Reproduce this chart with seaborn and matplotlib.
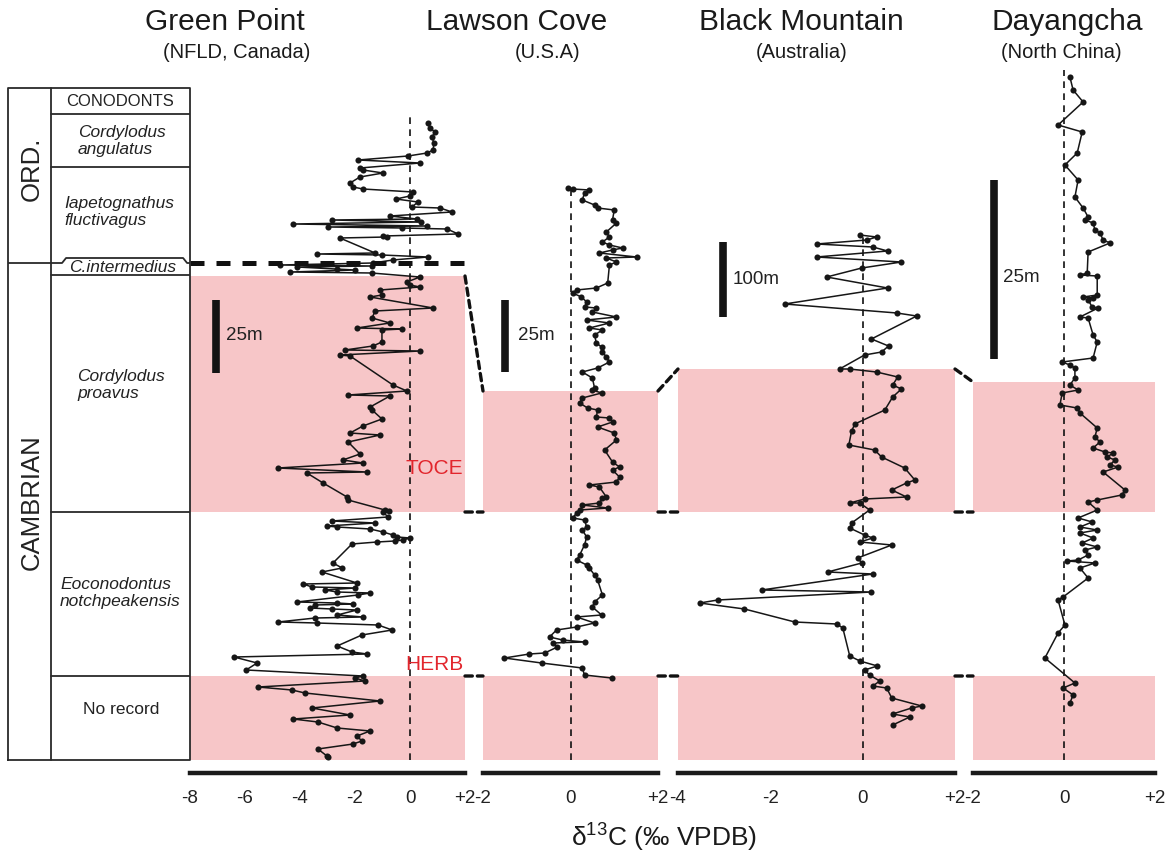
import numpy as np
import pandas as pd
import matplotlib
matplotlib.use("Agg")
import matplotlib.pyplot as plt
import seaborn as sns
from matplotlib.patches import ConnectionPatch

sns.set_style("white")
plt.rcParams['font.family'] = ['Liberation Sans', 'DejaVu Sans']
plt.rcParams['mathtext.default'] = 'regular'
plt.rcParams['axes.unicode_minus'] = False

# ---------------- data (composite stratigraphic level, d13C permil) ----------------
gp_level = [637, 632, 628, 623, 617, 610, 607, 604, 600, 597, 592, 590, 587, 583, 577, 573, 571, 568,
            564, 561, 558, 553, 552, 548, 544, 541, 540, 538, 536, 534, 533, 532, 531, 526, 524, 523,
            522, 507, 506, 505, 503, 500, 497, 495, 494, 493, 491, 490, 488, 487, 483, 478, 475, 473,
            470, 465, 463, 452, 449, 442, 437, 432, 431, 430, 418, 414, 410, 409, 405, 404, 375, 369,
            365, 364, 353, 350, 341, 334, 327, 325, 318, 306, 300, 297, 292, 288, 287, 277, 263, 260,
            250, 249, 248, 243, 239, 237, 234, 233, 231, 228, 225, 223, 222, 220, 219, 218, 216, 197,
            192, 188, 177, 176, 173, 172, 170, 168, 167, 165, 158, 157, 156, 155, 152, 151, 150, 145,
            143, 142, 138, 137, 135, 130, 125, 114, 108, 106, 103, 97, 90, 84, 82, 79, 73, 70, 67, 59,
            52, 45, 41, 38, 32, 29, 24, 19, 16, 11, 4, 3]
gp_d13c = [0.65, 0.73, 0.91, 0.80, 0.87, 0.84, 0.62, -0.07, -1.89, 0.36, -1.82, -1.71, -0.98, -1.82,
           -2.18, -2.07, -1.71, 0.11, 0.00, -0.51, 0.29, 0.07, 1.09, 1.53, -0.73, 0.25, -2.84, 0.40,
           -4.25, 0.62, -2.98, -0.29, 1.35, 1.75, -0.98, -0.84, -2.55, -1.27, -3.38, -1.02, 0.65,
           -0.62, -1.35, -4.73, -1.38, -4.11, -2.65, -2.00, -4.36, -1.40, 0.36, -0.11, 0.00, 0.36,
           -1.09, -1.02, -1.45, 0.84, -1.27, -1.38, -0.73, -1.93, -0.29, -1.02, -1.02, -1.35, -2.36,
           0.36, -2.55, -2.18, -0.62, -0.11, -2.25, -0.73, -1.45, -1.38, -1.02, -1.71, -2.18, -1.09,
           -2.25, -1.82, -2.44, -1.71, -4.80, -1.56, -3.75, -3.16, -2.29, -2.25, -0.91, -0.76, -0.98,
           -0.80, -2.84, -1.27, -3.02, -2.65, -1.45, -0.98, -0.62, -0.47, 0.00, -0.25, -0.55, -1.20,
           -2.11, -2.80, -2.47, -3.20, -1.93, -3.89, -3.56, -2.00, -3.09, -2.65, -1.45, -1.89, -4.11,
           -2.65, -2.07, -3.45, -3.64, -2.84, -1.93, -2.65, -1.71, -3.45, -4.80, -3.38, -1.16, -0.65,
           -1.75, -2.65, -2.11, -1.56, -6.40, -5.56, -5.96, -1.71, -2.00, -1.64, -5.53, -4.29, -3.82,
           -1.09, -3.56, -2.18, -4.25, -3.35, -2.65, -1.45, -1.93, -1.75, -2.07, -3.35, -3.02, -2.98]

lc_level = [572, 571, 570, 567, 560, 555, 552, 550, 540, 537, 528, 523, 518, 515, 512, 510, 507, 503,
            502, 498, 495, 477, 472, 470, 467, 463, 458, 453, 452, 448, 443, 440, 437, 432, 430, 425,
            417, 413, 408, 403, 398, 392, 388, 382, 372, 370, 367, 362, 357, 352, 350, 343, 342, 338,
            333, 327, 320, 310, 298, 293, 290, 283, 278, 275, 273, 263, 262, 257, 255, 252, 250, 247,
            242, 240, 233, 230, 223, 215, 205, 200, 195, 192, 185, 180, 165, 158, 153, 145, 143, 137,
            133, 130, 123, 120, 118, 117, 113, 107, 106, 102, 97, 92, 85, 82]
lc_d13c = [-0.05, 0.05, 0.43, 0.32, 0.27, 0.55, 0.62, 1.00, 0.96, 1.05, 0.82, 0.89, 0.73, 0.89, 1.19,
           0.96, 0.66, 1.51, 0.82, 1.05, 0.89, 0.85, 0.59, 0.14, 0.05, 0.25, 0.37, 0.32, 0.59, 0.50,
           1.05, 0.37, 0.89, 0.43, 0.73, 0.55, 0.59, 0.71, 0.73, 0.82, 0.89, 0.62, 0.27, 0.50, 0.55,
           0.50, 0.71, 0.27, 0.21, 0.39, 0.62, 0.59, 0.89, 0.96, 0.62, 1.00, 1.05, 0.78, 0.96, 1.12,
           0.96, 1.12, 1.05, 0.43, 0.66, 0.82, 0.73, 0.66, 0.27, 0.85, 0.21, 0.14, 0.05, 0.32, 0.37,
           0.27, 0.37, 0.32, 0.21, 0.14, 0.37, 0.43, 0.55, 0.62, 0.73, 0.55, 0.50, 0.71, 0.14, 0.55,
           0.14, -0.32, -0.48, -0.18, 0.32, -0.41, -0.30, -0.59, -0.94, -1.51, -0.66, 0.27, 0.32, 0.94]

bm_level = [525, 523, 520, 516, 513, 509, 503, 498, 492, 483, 472, 456, 447, 444, 421, 414, 408, 405,
            391, 391, 388, 383, 375, 371, 363, 350, 336, 329, 315, 310, 303, 292, 280, 277, 270, 263,
            261, 257, 257, 250, 237, 232, 225, 222, 218, 215, 202, 197, 188, 186, 170, 168, 160, 157,
            151, 138, 136, 132, 104, 99, 94, 90, 85, 79, 74, 72, 62, 54, 52, 46, 43, 35]
bm_d13c = [-0.06, 0.30, 0.09, -1.00, 0.22, 0.54, -1.00, 0.84, -0.02, -0.78, 0.54, -1.69, 0.74, 1.17,
           0.19, 0.56, 0.41, 0.04, -0.50, -0.28, 0.30, 0.76, 0.65, 0.84, 0.65, 0.48, -0.17, -0.24,
           -0.30, 0.26, 0.41, 0.91, 1.13, 0.95, 0.63, 0.95, 0.04, -0.28, -0.06, 0.15, -0.24, -0.28,
           0.04, 0.22, -0.06, 0.63, -0.11, -0.02, -0.76, 0.22, -2.19, 0.19, -3.14, -3.53, -2.56,
           -1.47, -0.56, -0.43, -0.28, -0.06, 0.32, 0.04, 0.15, 0.37, 0.22, 0.52, 0.63, 1.28, 1.06,
           0.65, 1.02, 0.65]

dy_level = [683, 670, 658, 635, 628, 607, 595, 580, 563, 552, 543, 540, 537, 530, 527, 520, 517, 508,
            487, 485, 484, 465, 463, 462, 460, 453, 452, 443, 442, 425, 418, 402, 398, 395, 392, 382,
            375, 370, 367, 355, 352, 347, 332, 323, 318, 312, 308, 307, 303, 300, 295, 293, 288, 270,
            265, 260, 258, 250, 242, 238, 233, 230, 227, 222, 217, 213, 210, 205, 200, 199, 197, 192,
            182, 163, 160, 135, 127, 102, 77, 72, 65, 57]
dy_d13c = [0.13, 0.20, 0.42, -0.13, 0.40, 0.29, 0.02, 0.31, 0.24, 0.42, 0.53, 0.46, 0.64, 0.68, 0.79,
           0.86, 1.01, 0.53, 0.51, 0.35, 0.73, 0.73, 0.42, 0.64, 0.53, 0.62, 0.75, 0.35, 0.53, 0.64,
           0.73, 0.64, -0.04, 0.13, 0.24, 0.24, 0.13, 0.31, -0.04, -0.09, 0.29, 0.35, 0.73, 0.68, 0.79,
           0.64, 0.90, 1.08, 0.95, 1.12, 1.01, 1.19, 0.86, 1.34, 1.27, 0.73, 0.53, 0.73, 0.31, 0.62,
           0.35, 0.73, 0.35, 0.64, 0.40, 0.73, 0.46, 0.53, 0.31, 0.07, 0.68, 0.35, 0.53, -0.02, -0.13,
           0.02, -0.13, -0.42, 0.24, -0.02, 0.20, 0.13]

section_names = ["Green Point", "Lawson Cove", "Black Mountain", "Dayangcha"]
section_regions = ["(NFLD, Canada)", "(U.S.A)", "(Australia)", "(North China)"]
section_xlims = [(-8, 2), (-2, 2), (-4, 2), (-2, 2)]
section_ticks = [[-8, -6, -4, -2, 0, 2], [-2, 0, 2], [-4, -2, 0, 2], [-2, 0, 2]]
toce_top = [484, 369, 391, 378]          # top of TOCE interval in each section
zero_line_top = [645, 572, 525, 690]
scale_labels = ["25m", "25m", "100m", "25m"]
scale_bar_x = [-7.07, -1.49, -3.03, -1.53]
scale_bar_y = [(387, 460), (388, 460), (443, 518), (401, 580)]
scale_text_xy = [(-6.69, 424), (-1.21, 424), (-2.82, 480), (-1.34, 482)]

toce_base = 248
herb_level = 84
ord_camb = 497

zone_names = ["CONODONTS", "Cordylodus\nangulatus", "Iapetognathus\nfluctivagus", "C.intermedius",
              "Cordylodus\nproavus", "Eoconodontus\nnotchpeakensis", "No record"]

data = [(gp_level, gp_d13c), (lc_level, lc_d13c), (bm_level, bm_d13c), (dy_level, dy_d13c)]

# ---------------- layout ----------------
W, H = 1171, 860
fig = plt.figure(figsize=(W / 100, H / 100), dpi=100)
PINK = '#f7c6c8'
RED = '#e2262d'
YLIM = (-13, 695)

def px_axes(x0, x1, y0=65, y1=773):
    return fig.add_axes([x0 / W, 1 - y1 / H, (x1 - x0) / W, (y1 - y0) / H])

panel_px = [(190, 465), (483, 658), (678, 955), (973, 1155)]
title_cx = [225, 517, 801, 1067]
sub_cx = [237, 548, 802, 1061]

axes = []
for i, (x0, x1) in enumerate(panel_px):
    ax = px_axes(x0, x1)
    axes.append(ax)
    lev, d13 = data[i]
    ax.axhspan(toce_base, toce_top[i], color=PINK, lw=0, zorder=0)
    ax.axhspan(0, herb_level, color=PINK, lw=0, zorder=0)
    ax.plot([0, 0], [0, zero_line_top[i]], color='#111', lw=1.2, ls=(0, (4, 3.2)), zorder=1)
    sns.lineplot(x=d13, y=lev, sort=False, estimator=None, ax=ax, color='#161616', lw=1.1,
                 marker='o', markersize=4.4, markeredgewidth=0, zorder=3)
    bx = scale_bar_x[i]
    ax.plot([bx, bx], scale_bar_y[i], color='#141414', lw=5.5, solid_capstyle='butt', zorder=2)
    tx, ty = scale_text_xy[i]
    ax.text(tx, ty, scale_labels[i], fontsize=13.5, ha='left', va='center', color='#222')
    ax.set_xlim(*section_xlims[i])
    ax.set_ylim(*YLIM)
    ax.set_yticks([])
    ax.set_xticks(section_ticks[i])
    ax.set_xticklabels([("+%d" % t) if t > 0 else ("%d" % t) for t in section_ticks[i]],
                       fontsize=13.5)
    ax.tick_params(axis='x', direction='out', length=7, width=1.2, pad=5, colors='#222')
    ax.set_xlabel('')
    ax.set_ylabel('')
    for s in ['top', 'left', 'right']:
        ax.spines[s].set_visible(False)
    ax.spines['bottom'].set_linewidth(3.2)
    ax.spines['bottom'].set_color('#1a1a1a')
    ax.patch.set_alpha(0)
    fig.text(title_cx[i] / W, 1 - 22 / H, section_names[i], ha='center', va='center', fontsize=21.5,
             color='#1a1a1a')
    fig.text(sub_cx[i] / W, 1 - 52 / H, section_regions[i], ha='center', va='center', fontsize=14.5,
             color='#1a1a1a')

gp = axes[0]
gp.plot([-8, 2], [ord_camb, ord_camb], color='#111', lw=3.6, ls=(0, (2.8, 2.4)), zorder=4,
        clip_on=False)
gp.text(0.87, 291, "TOCE", color=RED, fontsize=15, ha='center', va='center')
gp.text(0.87, 96, "HERB", color=RED, fontsize=15, ha='center', va='center')

# correlation lines between sections
for i in range(3):
    a, b = axes[i], axes[i + 1]
    xa = section_xlims[i][1]
    xb = section_xlims[i + 1][0]
    for ya, yb in [(toce_top[i], toce_top[i + 1]), (toce_base, toce_base), (herb_level, herb_level)]:
        con = ConnectionPatch(xyA=(xa, ya), coordsA=a.transData, xyB=(xb, yb), coordsB=b.transData,
                              color='#111', lw=2.4, ls=(0, (2.2, 1.5)))
        fig.add_artist(con)

# ---------------- stratigraphic column ----------------
col = px_axes(8, 190)
col.set_xlim(0, 1)
col.set_ylim(*YLIM)
col.axis('off')
LC_ = '#2a2a2a'
xd = 0.236
col.plot([0, 1, 1, 0, 0], [0, 0, 672, 672, 0], color=LC_, lw=1.3, clip_on=False)
col.plot([xd, xd], [0, 672], color=LC_, lw=1.3)
col.plot([0, xd], [ord_camb, ord_camb], color=LC_, lw=1.3)
for yb in [646, 593, 485, 248, 84]:
    col.plot([xd, 1], [yb, yb], color=LC_, lw=1.3)
col.plot([xd, 0.297, 0.319, 0.962, 0.984, 1.0], [497, 497, 502, 502, 497, 497], color=LC_, lw=1.3)

col.text(0.13, 591, "ORD.", rotation=90, fontsize=18.5, ha='center', va='center', color='#222')
col.text(0.13, 258, "CAMBRIAN", rotation=90, fontsize=18.5, ha='center', va='center', color='#222')
col.text(0.615, 659, zone_names[0], fontsize=12, ha='center', va='center', color='#222')
col.text(0.385, 619, zone_names[1], fontsize=12.5, style='italic', ha='left', va='center',
         color='#222', linespacing=1.15)
col.text(0.308, 548, zone_names[2], fontsize=12.5, style='italic', ha='left', va='center',
         color='#222', linespacing=1.15)
col.text(0.627, 492, zone_names[3], fontsize=12.5, style='italic', ha='center', va='center',
         color='#222')
col.text(0.379, 375, zone_names[4], fontsize=12.5, style='italic', ha='left', va='center',
         color='#222', linespacing=1.15)
col.text(0.286, 167, zone_names[5], fontsize=12.5, style='italic', ha='left', va='center',
         color='#222', linespacing=1.15)
col.text(0.62, 50, zone_names[6], fontsize=12.5, ha='center', va='center', color='#222')

fig.text(664 / W, 1 - 838 / H, r"δ$^{13}$C (‰ VPDB)", ha='center', va='center', fontsize=19,
         color='#1a1a1a')

fig.savefig("out.png", dpi=100)
